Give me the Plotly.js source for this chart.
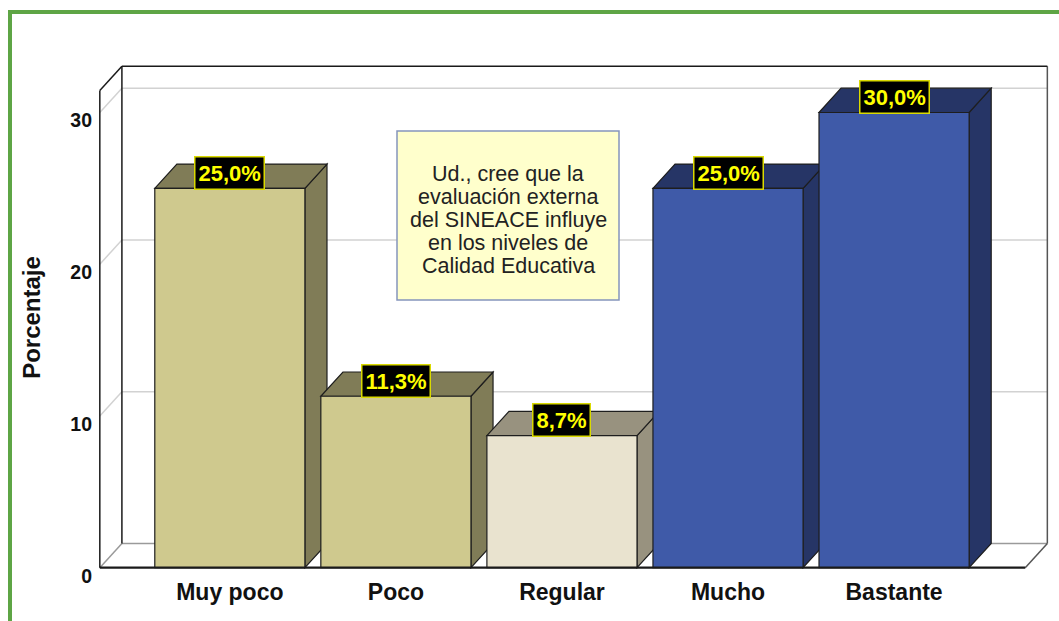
<!DOCTYPE html>
<html><head><meta charset="utf-8">
<script src="https://cdn.plot.ly/plotly-3.0.1.min.js"></script>
<style>html,body{margin:0;padding:0;background:#fff;} #chart{width:1059px;height:621px;}</style>
</head><body><div id="chart"></div>
<script>
const categories = ['Muy poco', 'Poco', 'Regular', 'Mucho', 'Bastante'];
const percentages = [25.0, 11.3, 8.7, 25.0, 30.0];
const valueLabels = ['25,0%', '11,3%', '8,7%', '25,0%', '30,0%'];
const frontColors = ['#CFC98E', '#CFC98E', '#E9E3CF', '#3F5AA8', '#3F5AA8'];
const sideColors = ['#807C57', '#807C57', '#98927F', '#263566', '#263566'];
const yTickValues = [0, 10, 20, 30];
const yTickLabels = ['0', '10', '20', '30'];
const axisTitle = 'Porcentaje';
const boxLines = ['Ud., cree que la', 'evaluación externa', 'del SINEACE influye', 'en los niveles de', 'Calidad Educativa'];

const FONT = 'Liberation Sans, Arial, sans-serif';
// 3D geometry (in axis units)
const W = 0.904;
const DX = 0.133;
const DY = 1.6;
const XF0 = -0.783, XF1 = 4.79;
const YTOP = 31.45;
const XR = [-0.80, XF1 + DX + 0.01];
const YR = [-0.15, YTOP + DY + 0.08];
const ML = 97, MR = 10, MT = 65, MB = 51;
const PW = 1059 - ML - MR, PH = 621 - MT - MB;
const px2paperX = p => (p - ML) / PW;
const px2paperY = p => (621 - MB - p) / PH;
const dataX = p => XR[0] + (p - ML) / PW * (XR[1] - XR[0]);
const dataY = p => YR[0] + (621 - MB - p) / PH * (YR[1] - YR[0]);

const shapes = [];
function seg(x0, y0, x1, y1, color, width, layer) {
  shapes.push({type: 'line', xref: 'x', yref: 'y', x0, y0, x1, y1,
    line: {color, width}, layer: layer || 'below'});
}
// back wall white
shapes.push({type: 'rect', xref: 'x', yref: 'y', x0: XF0 + DX, x1: XF1 + DX, y0: DY, y1: YTOP + DY,
  fillcolor: '#FFFFFF', line: {width: 0}, layer: 'below'});
// gridlines on back wall and left wall
yTickValues.forEach(t => {
  const c = t === 0 ? '#9A9A9A' : '#D2D2D2';
  seg(XF0 + DX, t + DY, XF1 + DX, t + DY, c, 1.5);
  seg(XF0, t, XF0 + DX, t + DY, c, 1.5);
});
// box edges
seg(XF1, 0, XF1 + DX, DY, '#555555', 1.5);
seg(XF1 + DX, DY, XF1 + DX, YTOP + DY, '#555555', 1.5);
seg(XF0 + DX, DY, XF0 + DX, YTOP + DY, '#1A1A1A', 1.5);
seg(XF0 + DX, YTOP + DY, XF1 + DX, YTOP + DY, '#1A1A1A', 1.5);
seg(XF0, YTOP, XF0 + DX, YTOP + DY, '#1A1A1A', 1.5);
seg(XF0, 0, XF0, YTOP, '#1A1A1A', 1.5);
// bar side and top faces
percentages.forEach((v, i) => {
  const xl = i - W / 2, xr = i + W / 2;
  shapes.push({type: 'path', xref: 'x', yref: 'y', layer: 'below',
    path: `M${xr},0 L${xr + DX},${DY} L${xr + DX},${v + DY} L${xr},${v} Z`,
    fillcolor: sideColors[i], line: {color: '#1E1E1E', width: 1.2}});
  shapes.push({type: 'path', xref: 'x', yref: 'y', layer: 'below',
    path: `M${xl},${v} L${xl + DX},${v + DY} L${xr + DX},${v + DY} L${xr},${v} Z`,
    fillcolor: sideColors[i], line: {color: '#1E1E1E', width: 1.2}});
});
// front floor line
seg(XF0, 0, XF1, 0, '#1A1A1A', 2.2, 'above');
// note box
shapes.push({type: 'rect', xref: 'x', yref: 'y', layer: 'above',
  x0: dataX(397), x1: dataX(619), y0: dataY(300), y1: dataY(131),
  fillcolor: '#FFFFCC', line: {color: '#8595BC', width: 1.5}});
// green outer frame
shapes.push({type: 'rect', xref: 'paper', yref: 'paper',
  x0: px2paperX(10), x1: px2paperX(1064), y0: px2paperY(630), y1: px2paperY(12),
  line: {color: '#5EA545', width: 4}, fillcolor: 'rgba(0,0,0,0)', layer: 'above'});

const annotations = percentages.map((v, i) => ({
  x: i, y: v + DY * 0.63, xref: 'x', yref: 'y', text: valueLabels[i], showarrow: false,
  xanchor: 'center', yanchor: 'middle',
  font: {family: FONT, size: 22, color: '#FFFF00', weight: 'bold'},
  bgcolor: '#000000', bordercolor: '#DADA00', borderwidth: 1.5, borderpad: 3
}));
const boxCx = (dataX(397) + dataX(619)) / 2;
boxLines.forEach((t, k) => {
  annotations.push({
    x: boxCx, y: dataY(173.5 + 23 * k), xref: 'x', yref: 'y', text: t, showarrow: false,
    xanchor: 'center', yanchor: 'middle', align: 'center',
    font: {family: FONT, size: 21.5, color: '#222222'}
  });
});

const trace = {
  type: 'bar', x: categories.map((c, i) => i), y: percentages, width: W,
  marker: {color: frontColors, line: {color: '#1E1E1E', width: 1.2}},
  hoverinfo: 'skip', showlegend: false, textposition: 'none'
};

const layout = {
  width: 1059, height: 621,
  margin: {l: ML, r: MR, t: MT, b: MB, pad: 0},
  paper_bgcolor: '#FFFFFF', plot_bgcolor: '#FFFFFF',
  showlegend: false,
  xaxis: {range: XR, tickvals: categories.map((c, i) => i), ticktext: categories,
    showgrid: false, zeroline: false, showline: false, ticks: '', ticklabelstandoff: 6,
    tickfont: {family: FONT, size: 23, color: '#111111', weight: 'bold'}, fixedrange: true},
  yaxis: {range: YR, tickvals: yTickValues, ticktext: yTickLabels,
    showgrid: false, zeroline: false, showline: false, ticks: '', ticklabelstandoff: 4,
    ticklabelshift: 8,
    tickfont: {family: FONT, size: 19.5, color: '#111111', weight: 'bold'}, fixedrange: true,
    title: {text: axisTitle, standoff: 22, font: {family: FONT, size: 24, color: '#111111', weight: 'bold'}}},
  shapes, annotations
};
Plotly.newPlot('chart', [trace], layout, {displayModeBar: false, staticPlot: true});
</script>
</body></html>
